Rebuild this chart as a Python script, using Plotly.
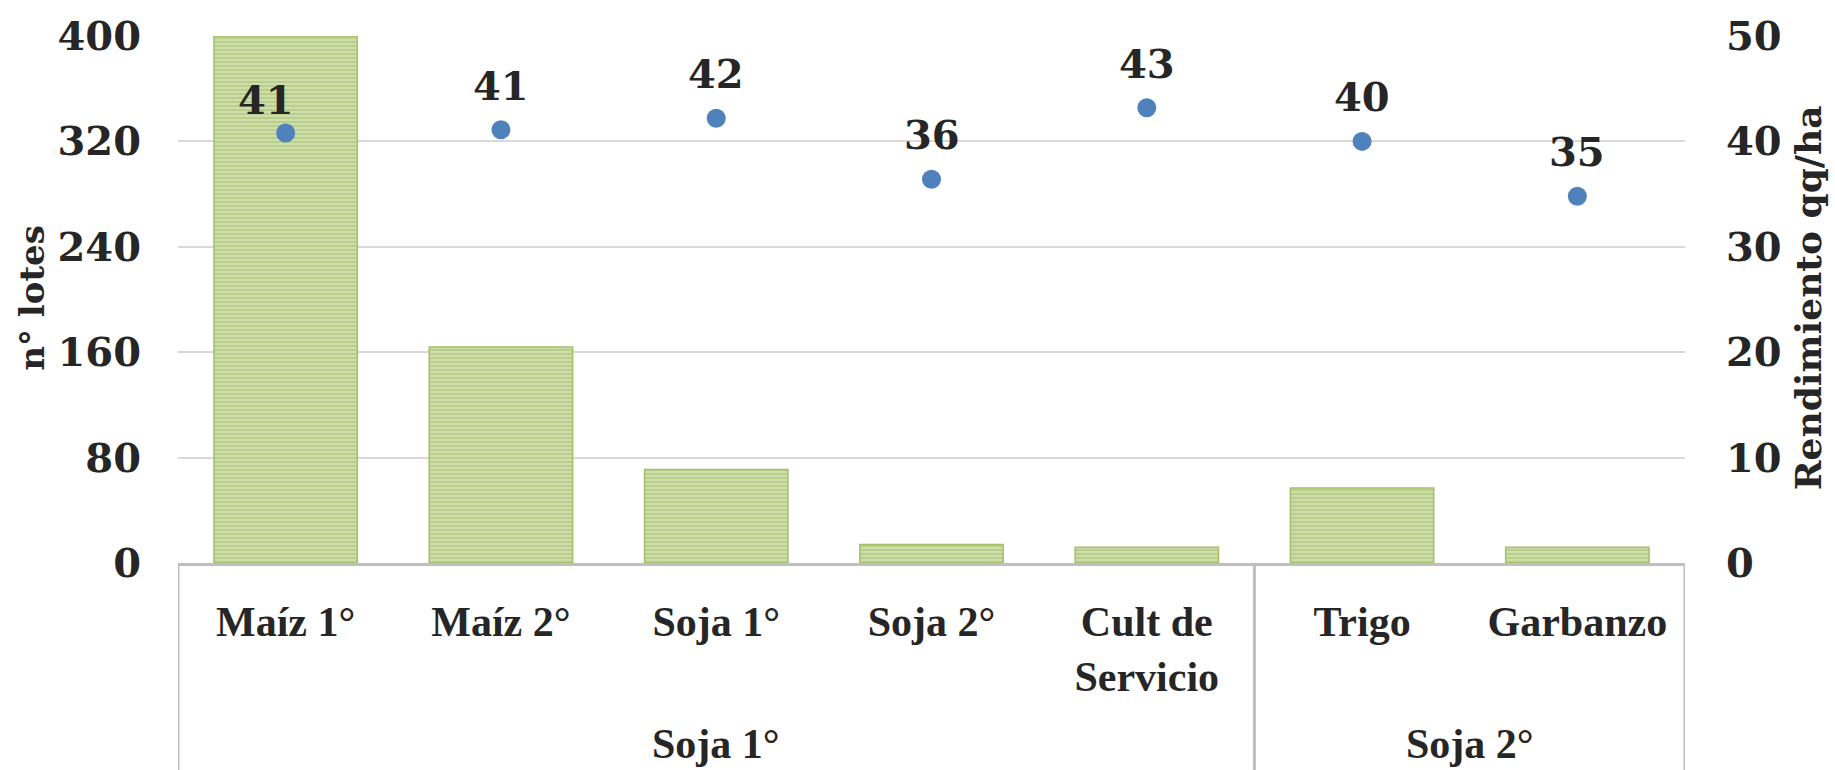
import plotly.graph_objects as go

# ---- data ----
categories = ["Maíz 1°", "Maíz 2°", "Soja 1°", "Soja 2°", "Cult de Servicio", "Trigo", "Garbanzo"]
tick_labels = ["Maíz 1°", "Maíz 2°", "Soja 1°", "Soja 2°", "Cult de<br>Servicio", "Trigo", "Garbanzo"]
n_lotes = [400, 164, 71, 14, 12, 57, 12]
rendimiento = [40.8, 41.1, 42.2, 36.4, 43.2, 40.0, 34.8]
group_labels = ["Soja 1°", "Soja 2°"]
group_sizes = [5, 2]
left_ticks = [0, 80, 160, 240, 320, 400]
right_ticks = [0, 10, 20, 30, 40, 50]

NUM_FONT = dict(family="DejaVu Serif", size=40, color="#262626", weight="bold")
CAT_FONT = dict(family="Liberation Serif", size=42, color="#262626", weight="bold")
TITLE_FONT_L = dict(family="DejaVu Serif", size=34, color="#262626", weight="bold")
TITLE_FONT_R = dict(family="DejaVu Serif", size=36, color="#262626", weight="bold")

# label placement style (the first label was moved by hand in the original)
label_shift = {"Maíz 1°": (-20, 8)}
default_shift = (0, 19)

fig = go.Figure()

fig.add_trace(go.Bar(
    x=categories, y=n_lotes, name="n° lotes",
    marker=dict(
        color="#dce7c2",
        line=dict(color="#a3c066", width=1.5),
        pattern=dict(shape="-", fgcolor="#96b652", size=4, solidity=0.7, fillmode="overlay"),
    ),
    yaxis="y",
))

fig.add_trace(go.Scatter(
    x=categories, y=rendimiento, name="Rendimiento",
    mode="markers",
    marker=dict(color="#4f81bd", size=19),
    yaxis="y2",
))

annotations = []
for c, v in zip(categories, rendimiento):
    xs, ys = label_shift.get(c, default_shift)
    annotations.append(dict(
        x=c, y=v, xref="x", yref="y2", text=f"{v:.0f}", showarrow=False,
        yanchor="bottom", xshift=xs, yshift=ys, font=NUM_FONT,
    ))

# group labels and dividers under the category axis
shapes = []
start = 0
dividers = [-0.5]
for lab, size in zip(group_labels, group_sizes):
    center = start + (size - 1) / 2
    annotations.append(dict(
        x=center, y=-0.344, xref="x", yref="paper", text=lab, showarrow=False,
        yanchor="middle", font=CAT_FONT,
    ))
    start += size
    dividers.append(start - 0.5)
for d in dividers:
    shapes.append(dict(type="line", xref="x", yref="paper", x0=d, x1=d, y0=0, y1=-0.42,
                       line=dict(color="#bfbfbf", width=3)))

# axis titles
annotations.append(dict(x=-0.097, y=0.503, xref="paper", yref="paper", text="n° lotes",
                        textangle=-90, showarrow=False, xanchor="center", yanchor="middle",
                        font=TITLE_FONT_L))
annotations.append(dict(x=1.0816, y=0.504, xref="paper", yref="paper", text="Rendimiento qq/ha",
                        textangle=-90, showarrow=False, xanchor="center", yanchor="middle",
                        font=TITLE_FONT_R))

fig.update_layout(
    width=1835, height=770,
    margin=dict(l=178, r=150, t=29, b=207),
    paper_bgcolor="white", plot_bgcolor="white",
    showlegend=False,
    bargap=0.334,
    xaxis=dict(
        type="category", categoryorder="array", categoryarray=categories,
        tickvals=categories, ticktext=tick_labels,
        showline=True, linecolor="#bfbfbf", linewidth=3,
        ticks="", showgrid=False, tickfont=CAT_FONT, ticklabelstandoff=20,
        range=[-0.5, len(categories) - 0.5],
    ),
    yaxis=dict(
        range=[0, 400], tickvals=left_ticks, showgrid=True, gridcolor="#d9d9d9", gridwidth=1.5,
        zeroline=False, showline=False, ticks="", tickfont=NUM_FONT, ticklabelstandoff=36,
    ),
    yaxis2=dict(
        range=[0, 50], tickvals=right_ticks, overlaying="y", side="right", showgrid=False,
        zeroline=False, showline=False, ticks="", tickfont=NUM_FONT, ticklabelstandoff=40,
    ),
    annotations=annotations,
    shapes=shapes,
)

fig.write_html("out.html", config={"displayModeBar": False},
               post_script="document.body.style.margin='0';document.body.style.overflow='hidden';")
